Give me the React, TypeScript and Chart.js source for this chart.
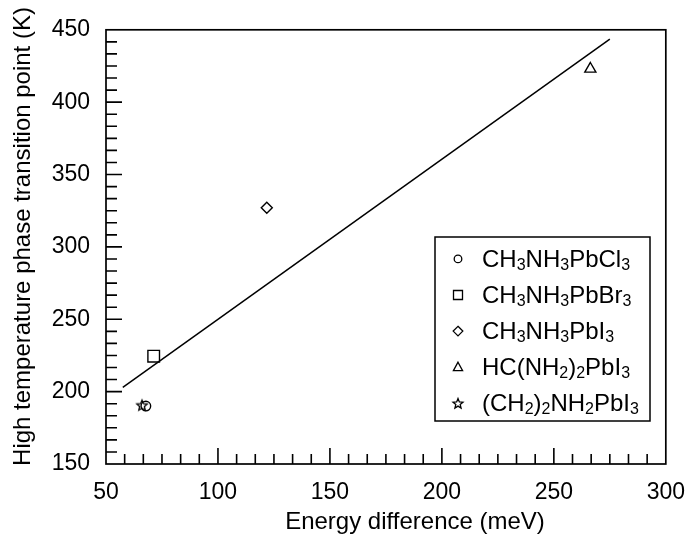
import React, { useEffect, useRef } from 'react';
import { Chart, registerables } from 'chart.js';

Chart.register(...registerables);

// ---- Data ----
const compounds = ['CH_3NH_3PbCl_3', 'CH_3NH_3PbBr_3', 'CH_3NH_3PbI_3', 'HC(NH_2)_2PbI_3', '(CH_2)_2NH_2PbI_3'];
const energyDiff = [67.8, 71.3, 121.8, 266.3, 66.1];
const transitionTemp = [190, 224.5, 327, 423, 190.3];
const markerKinds = ['circle', 'square', 'diamond', 'triangle', 'star'];
const fitLineX = [57.5, 275];
const fitLineY = [203, 443.5];
const xTickValues = [50, 100, 150, 200, 250, 300];
const yTickValues = [150, 200, 250, 300, 350, 400, 450];
const minorPerMajor = 6;

const FONT = '"Liberation Sans", Arial, Helvetica, sans-serif';

function makeStarCanvas(outer: number, lw: number): HTMLCanvasElement {
  const c = document.createElement('canvas');
  const s = Math.ceil(outer * 2 + lw * 2 + 2);
  c.width = s;
  c.height = s;
  const ctx = c.getContext('2d')!;
  starPath(ctx, s / 2, s / 2, outer, outer * 0.45);
  ctx.lineWidth = lw;
  ctx.strokeStyle = '#000';
  ctx.lineJoin = 'miter';
  ctx.stroke();
  return c;
}

function starPath(ctx: CanvasRenderingContext2D, cx: number, cy: number, ro: number, ri: number) {
  ctx.beginPath();
  for (let i = 0; i < 10; i++) {
    const r = i % 2 === 0 ? ro : ri;
    const a = -Math.PI / 2 + (i * Math.PI) / 5;
    const px = cx + r * Math.cos(a);
    const py = cy + r * Math.sin(a);
    if (i === 0) ctx.moveTo(px, py);
    else ctx.lineTo(px, py);
  }
  ctx.closePath();
}

function drawSymbol(ctx: CanvasRenderingContext2D, kind: string, x: number, y: number) {
  ctx.save();
  ctx.strokeStyle = '#000';
  ctx.lineWidth = 1.3;
  ctx.beginPath();
  if (kind === 'circle') {
    ctx.arc(x, y, 3.8, 0, Math.PI * 2);
  } else if (kind === 'square') {
    ctx.rect(x - 4.5, y - 4.5, 9, 9);
  } else if (kind === 'diamond') {
    ctx.moveTo(x, y - 4.8);
    ctx.lineTo(x + 4.8, y);
    ctx.lineTo(x, y + 4.8);
    ctx.lineTo(x - 4.8, y);
    ctx.closePath();
  } else if (kind === 'triangle') {
    ctx.moveTo(x, y - 5);
    ctx.lineTo(x + 4.6, y + 3.5);
    ctx.lineTo(x - 4.6, y + 3.5);
    ctx.closePath();
  } else if (kind === 'star') {
    starPath(ctx, x, y + 0.5, 5.2, 2.3);
  }
  ctx.stroke();
  ctx.restore();
}

function drawRich(ctx: CanvasRenderingContext2D, text: string, x: number, y: number, size: number, subSize: number, subDy: number) {
  let cx = x;
  let i = 0;
  ctx.textAlign = 'left';
  ctx.textBaseline = 'alphabetic';
  while (i < text.length) {
    if (text[i] === '_' && i + 1 < text.length) {
      ctx.font = `${subSize}px ${FONT}`;
      ctx.fillText(text[i + 1], cx, y + subDy);
      cx += ctx.measureText(text[i + 1]).width;
      i += 2;
    } else {
      let j = i;
      while (j < text.length && text[j] !== '_') j++;
      const seg = text.slice(i, j);
      ctx.font = `${size}px ${FONT}`;
      ctx.fillText(seg, cx, y);
      cx += ctx.measureText(seg).width;
      i = j;
    }
  }
}

const decorPlugin = {
  id: 'decor',
  afterDraw(chart: any) {
    const ctx: CanvasRenderingContext2D = chart.ctx;
    const area = chart.chartArea;
    const xs = chart.scales.x;
    const ys = chart.scales.y;
    ctx.save();
    ctx.strokeStyle = '#000';
    ctx.fillStyle = '#000';

    // frame
    ctx.lineWidth = 1.7;
    ctx.strokeRect(area.left, area.top, area.right - area.left, area.bottom - area.top);

    // ticks (inward) on bottom and left
    ctx.lineWidth = 1.6;
    ctx.beginPath();
    for (let k = 0; k < xTickValues.length - 1; k++) {
      const a = xTickValues[k];
      const b = xTickValues[k + 1];
      for (let m = 0; m <= minorPerMajor; m++) {
        const v = a + ((b - a) * m) / minorPerMajor;
        if (m === minorPerMajor && k < xTickValues.length - 2) continue;
        const px = xs.getPixelForValue(v);
        if (px <= area.left + 0.5 || px >= area.right - 0.5) continue;
        const len = m === 0 ? 16 : 10;
        ctx.moveTo(px, area.bottom);
        ctx.lineTo(px, area.bottom - len);
      }
    }
    for (let k = 0; k < yTickValues.length - 1; k++) {
      const a = yTickValues[k];
      const b = yTickValues[k + 1];
      for (let m = 0; m <= minorPerMajor; m++) {
        const v = a + ((b - a) * m) / minorPerMajor;
        if (m === minorPerMajor && k < yTickValues.length - 2) continue;
        const py = ys.getPixelForValue(v);
        if (py >= area.bottom - 0.5 || py <= area.top + 0.5) continue;
        const len = m === 0 ? 16 : 11;
        ctx.moveTo(area.left, py);
        ctx.lineTo(area.left + len, py);
      }
    }
    ctx.stroke();

    // axis titles
    ctx.font = `24px ${FONT}`;
    ctx.textAlign = 'center';
    ctx.textBaseline = 'middle';
    ctx.fillText('Energy difference (meV)', 415, 522);
    ctx.save();
    ctx.translate(23, 236.5);
    ctx.rotate(-Math.PI / 2);
    ctx.fillText('High temperature phase transition point (K)', 0, 0);
    ctx.restore();

    // legend
    ctx.fillStyle = '#fff';
    ctx.fillRect(435, 237, 215, 184);
    ctx.lineWidth = 1.5;
    ctx.strokeRect(435, 237, 215, 184);
    ctx.fillStyle = '#000';
    compounds.forEach((label, i) => {
      const base = 266.7 + i * 36.1;
      drawSymbol(ctx, markerKinds[i], 458, base - 7.8);
      drawRich(ctx, label, 482, base, 24, 16, 3);
    });
    ctx.restore();
  },
};

export default function App() {
  const ref = useRef<HTMLCanvasElement>(null);

  useEffect(() => {
    document.body.style.margin = '0';
    const canvas = ref.current!;
    const star = makeStarCanvas(5.5, 1.3);
    const styleFor: Record<string, any> = {
      circle: { pointStyle: 'circle', radius: 4.8 },
      square: { pointStyle: 'rect', radius: 8.2 },
      diamond: { pointStyle: 'rectRot', radius: 5.5 },
      triangle: { pointStyle: 'triangle', radius: 6.4 },
      star: { pointStyle: star, radius: 6 },
    };
    const pointSets = compounds.map((c, i) => ({
      label: c,
      data: [{ x: energyDiff[i], y: transitionTemp[i] }],
      pointStyle: styleFor[markerKinds[i]].pointStyle,
      pointRadius: styleFor[markerKinds[i]].radius,
      borderColor: '#000',
      backgroundColor: 'rgba(0,0,0,0)',
      pointBorderWidth: 1.4,
      showLine: false,
    }));
    const lineSet = {
      label: 'fit',
      data: fitLineX.map((x, i) => ({ x, y: fitLineY[i] })),
      showLine: true,
      pointRadius: 0,
      borderColor: '#000',
      borderWidth: 1.5,
      backgroundColor: '#000',
    };
    const chart = new Chart(canvas, {
      type: 'scatter',
      data: { datasets: [lineSet as any, ...pointSets] },
      options: {
        animation: false,
        responsive: false,
        devicePixelRatio: 1,
        layout: { padding: { top: 12, right: 23, left: 0, bottom: 0 } },
        plugins: { legend: { display: false }, tooltip: { enabled: false } },
        scales: {
          x: {
            type: 'linear',
            min: 50,
            max: 300,
            afterFit: (s: any) => {
              s.height = 77;
            },
            afterBuildTicks: (s: any) => {
              s.ticks = xTickValues.map((v) => ({ value: v }));
            },
            grid: { display: false, drawTicks: false },
            border: { display: false },
            ticks: { color: '#000', font: { family: FONT, size: 23 }, padding: 15, maxRotation: 0 },
          },
          y: {
            type: 'linear',
            min: 150,
            max: 450,
            afterFit: (s: any) => {
              s.width = 106;
            },
            afterBuildTicks: (s: any) => {
              s.ticks = yTickValues.map((v) => ({ value: v }));
            },
            grid: { display: false, drawTicks: false },
            border: { display: false },
            ticks: { color: '#000', font: { family: FONT, size: 23 }, padding: 16 },
          },
        },
      },
      plugins: [decorPlugin],
    });
    return () => chart.destroy();
  }, []);

  return (
    <div style={{ width: 700, height: 541, background: '#fff' }}>
      <canvas ref={ref} width={700} height={541} style={{ display: 'block', width: 700, height: 541 }} />
    </div>
  );
}
